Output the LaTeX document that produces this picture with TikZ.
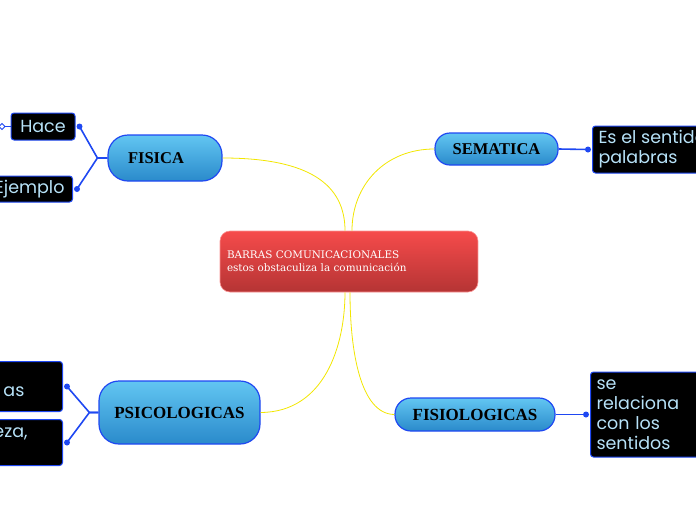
\documentclass[tikz,border=0pt]{standalone}
\usepackage{fontspec}
\setmainfont{Liberation Serif}
\newfontfamily\hojafont{Poppins}
\newfontfamily\slabfont{DejaVu Serif}
\usetikzlibrary{positioning}
\definecolor{ramablue}{HTML}{1F48F2}
\definecolor{celeste}{HTML}{62C6F2}
\definecolor{celesteosc}{HTML}{2A8ACB}
\definecolor{rojoclaro}{HTML}{F64B4B}
\definecolor{rojoosc}{HTML}{B53434}
\definecolor{hojatext}{HTML}{B7E2F8}
\definecolor{amarillo}{HTML}{F2E600}
\begin{document}
\begin{tikzpicture}[x=1pt,y=-1pt,
    centro/.style={draw=rojoclaro!60!white,line width=0.6pt,top color=rojoclaro,bottom color=rojoosc,
      rounded corners=10pt,text=white,font=\slabfont\fontsize{10.4}{13}\selectfont,align=left,inner xsep=7pt},
    rama/.style={draw=ramablue,line width=1.2pt,top color=celeste,bottom color=celesteosc,
      text=black,font=\bfseries\fontsize{16.5}{18}\selectfont},
    hoja/.style={draw=ramablue,line width=1pt,fill=black,rounded corners=3pt,text=hojatext,
      font=\hojafont\fontsize{17.5}{20}\selectfont,align=left,inner xsep=6pt,inner ysep=3pt},
    enlace/.style={draw=ramablue,line width=1.6pt},
    curva/.style={draw=amarillo,line width=0.8pt}]
    \useasboundingbox (0,0) rectangle (696,520);
    \clip (0,0) rectangle (696,520);
    %%%%%%%%%%%%%%%%%%%%%%%%%%%%%%%%%%%%%%%% nodo central
    \node[centro,minimum height=61pt,text width=244pt] (barras) at (349,261.5)
        {BARRAS COMUNICACIONALES\\estos obstaculiza la comunicación};
    %%%%%%%%%%%%%%%%%%%%%%%%%%%%%%%%%%%%%%%% ramas
    \node[rama,rounded corners=20pt,minimum height=46pt,text width=74pt,align=left,inner xsep=20pt] (fisica) at (165,158) {FISICA};
    \node[rama,rounded corners=15pt,minimum width=123pt,minimum height=32pt] (sematica) at (496.5,149) {SEMATICA};
    \node[rama,rounded corners=20pt,minimum width=161pt,minimum height=63pt,font=\bfseries\fontsize{17}{18}\selectfont] (psico) at (179.5,412.5) {PSICOLOGICAS};
    \node[rama,rounded corners=16pt,minimum width=160pt,minimum height=33pt,font=\bfseries\fontsize{17}{18}\selectfont] (fisio) at (475,414.5) {FISIOLOGICAS};
    %%%%%%%%%%%%%%%%%%%%%%%%%%%%%%%%%%%%%%%% hojas
    \node[hoja,minimum width=64pt,minimum height=27pt] (hace) at (43,126.5) {Hace};
    \node[hoja,anchor=east,minimum height=26pt,inner xsep=8pt] (ejemplo) at (73,189) {Ejemplo};
    \node[hoja,anchor=west,minimum height=47pt] (sentido) at (592,149.5) {Es el sentido de las\\palabras};
    \node[hoja,anchor=west,minimum height=85pt,text width=100pt] (relaciona) at (590,414.5) {se\\relaciona\\con los\\sentidos};
    \node[hoja,anchor=north east,minimum height=50pt,text width=100pt] (idea) at (63,361) {\mbox{}\\\hspace*{47pt}as};
    \node[hoja,anchor=north east,minimum height=46pt,text width=100pt] (tristeza) at (63,419) {\hspace*{37pt}eza,\\\mbox{}};
    %%%%%%%%%%%%%%%%%%%%%%%%%%%%%%%%%%%%%%%% curvas amarillas
    \draw[curva] (fisica.east) .. controls (310,158) and (345,185) .. ([xshift=-4pt]barras.north);
    \draw[curva] (sematica.west) .. controls (385,149) and (352,185) .. ([xshift=3pt]barras.north);
    \draw[curva] (psico.east) .. controls (325,412) and (345,345) .. ([xshift=-4pt]barras.south);
    \draw[curva] (fisio.west) .. controls (360,414) and (350,350) .. ([xshift=1pt]barras.south);
    %%%%%%%%%%%%%%%%%%%%%%%%%%%%%%%%%%%%%%%% enlaces azules
    \foreach \padre/\hijo/\dx in {fisica/hace/10,fisica/ejemplo/10,psico/idea/9,psico/tristeza/9}
    {
        \draw[enlace] (\padre.west) -- ++(-\dx,0) -- ([xshift=4pt]\hijo.east);
        \fill[ramablue] ([xshift=4pt]\hijo.east) circle (3pt);
    }
    \foreach \padre/\hijo in {sematica/sentido,fisio/relaciona}
    {
        \draw[enlace] (\padre.east) -- ([xshift=-4pt]\hijo.west);
        \fill[ramablue] ([xshift=-4pt]\hijo.west) circle (3pt);
    }
    \coordinate (haceext) at (2,126.5);
    \draw[ramablue,line width=1pt] (hace.west) -- (haceext);
    \draw[ramablue,line width=0.8pt,fill=white] (haceext) +(-3,0) -- +(0,-3) -- +(3,0) -- +(0,3) -- cycle;
\end{tikzpicture}
\end{document}
